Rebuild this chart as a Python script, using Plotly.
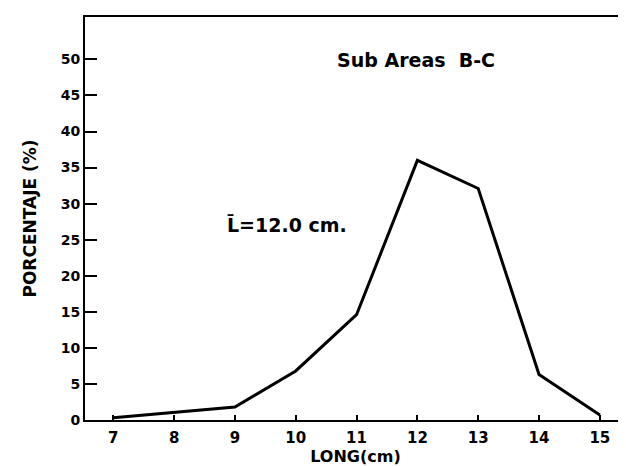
import plotly.graph_objects as go

long_cm = [7, 8, 9, 10, 11, 12, 13, 14, 15]
porcentaje = [0.3, 1.0, 1.8, 6.8, 14.6, 36.0, 32.1, 6.3, 0.7]
y_ticks = [0, 5, 10, 15, 20, 25, 30, 35, 40, 45, 50]
x_ticks = [7, 8, 9, 10, 11, 12, 13, 14, 15]

FONT = "DejaVu Sans"

fig = go.Figure()
fig.add_trace(go.Scatter(
    x=long_cm, y=porcentaje, mode="lines",
    line=dict(color="black", width=3),
    showlegend=False, hoverinfo="skip",
))

fig.update_layout(
    width=626, height=466,
    margin=dict(l=77, r=8, t=9, b=54),
    paper_bgcolor="white", plot_bgcolor="white",
    font=dict(family=FONT, color="black"),
    xaxis=dict(
        range=[6.535, 15.43], tickvals=x_ticks, ticktext=[str(v) for v in x_ticks],
        ticks="inside", ticklen=5, tickwidth=2, tickcolor="black",
        showline=True, linecolor="black", linewidth=2, mirror=True,
        showgrid=False, zeroline=False, automargin=False,
        ticklabelstandoff=3,
        tickfont=dict(family=FONT, size=15, color="black", weight="bold"),
        title=dict(text="LONG(cm)", standoff=3,
                   font=dict(family=FONT, size=16, color="black", weight="bold")),
    ),
    yaxis=dict(
        range=[0, 55.88], tickvals=y_ticks, ticktext=[str(v) for v in y_ticks],
        ticks="inside", ticklen=12, tickwidth=2, tickcolor="black",
        showline=True, linecolor="black", linewidth=2, mirror=True,
        showgrid=False, zeroline=False, automargin=False,
        tickfont=dict(family=FONT, size=14, color="black", weight="bold"),
        title=dict(text="PORCENTAJE (%)", standoff=20,
                   font=dict(family=FONT, size=17, color="black", weight="bold")),
    ),
    annotations=[
        dict(x=10.64, y=49.86, xref="x", yref="y", xanchor="left", yanchor="middle",
             text="Sub Areas  B-C", showarrow=False,
             font=dict(family=FONT, size=19, color="black", weight="bold")),
        dict(x=8.84, y=27.06, xref="x", yref="y", xanchor="left", yanchor="middle",
             text="L\u0304=12.0 cm.", showarrow=False,
             font=dict(family=FONT, size=19, color="black", weight="bold")),
    ],
)

fig.write_html("out.html")
